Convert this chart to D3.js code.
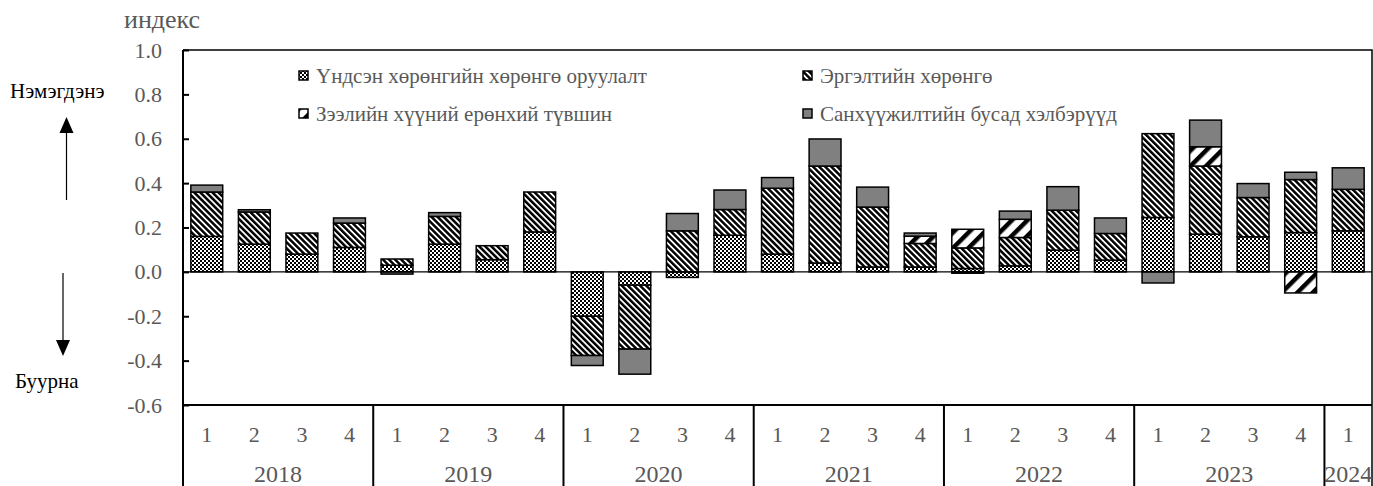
<!DOCTYPE html>
<html>
<head>
<meta charset="utf-8">
<script src="https://cdn.jsdelivr.net/npm/d3@7"></script>
<style>
  html, body { margin: 0; padding: 0; background: #fff; }
  svg { display: block; }
</style>
</head>
<body>
<div id="chart"></div>
<script>
const quarters = ['1','2','3','4','1','2','3','4','1','2','3','4','1','2','3','4','1','2','3','4','1','2','3','4','1'];
const years = ['2018','2019','2020','2021','2022','2023','2024'];
const yearQuarters = [4, 4, 4, 4, 4, 4, 1];

// contributions per quarter
const fixedInvest = [0.16, 0.125, 0.08, 0.11, 0.03, 0.125, 0.055, 0.18, -0.20, -0.06, -0.025, 0.165,
  0.08, 0.04, 0.022, 0.022, 0.015, 0.027, 0.098, 0.053, 0.245, 0.17, 0.158, 0.177, 0.185];
const workingCap = [0.20, 0.145, 0.095, 0.11, 0.028, 0.125, 0.063, 0.18, -0.177, -0.288, 0.185, 0.116,
  0.297, 0.437, 0.27, 0.106, 0.093, 0.128, 0.18, 0.12, 0.378, 0.307, 0.177, 0.239, 0.187];
const interestRate = [0, 0, 0, 0, 0, 0, 0, 0, 0, 0, 0, 0,
  0, 0, 0, 0.033, 0.084, 0.082, 0, 0, 0, 0.087, 0, -0.095, 0];
const otherFunding = [0.031, 0.01, 0, 0.023, -0.01, 0.017, 0, 0, -0.045, -0.113, 0.078, 0.088,
  0.048, 0.122, 0.09, 0.014, -0.006, 0.037, 0.106, 0.07, -0.05, 0.12, 0.063, 0.033, 0.097];

const seriesNames = ['Үндсэн хөрөнгийн хөрөнгө оруулалт', 'Эргэлтийн хөрөнгө', 'Зээлийн хүүний ерөнхий түвшин', 'Санхүүжилтийн бусад хэлбэрүүд'];
const yTicks = [-0.6, -0.4, -0.2, 0.0, 0.2, 0.4, 0.6, 0.8, 1.0];

const W = 1373, H = 486;
const padL = 183, padR = 1372, padT = 50, padB = 405;
const textGray = '#595959';
const FONT = '"Liberation Serif", "Times New Roman", serif';

const svg = d3.select('#chart').append('svg').attr('width', W).attr('height', H);
const defs = svg.append('defs');

function label(sel, size, color) {
  return sel.attr('font-family', FONT).style('font-family', FONT).style('font-size', size + 'px').attr('fill', color);
}

// patterns
const pDot = defs.append('pattern').attr('id', 'p-fixed').attr('patternUnits', 'userSpaceOnUse')
  .attr('width', 4).attr('height', 4);
pDot.append('rect').attr('width', 4).attr('height', 4).attr('fill', '#fff');
pDot.append('rect').attr('x', 0).attr('y', 0).attr('width', 2).attr('height', 2).attr('fill', '#000');
pDot.append('rect').attr('x', 2).attr('y', 2).attr('width', 2).attr('height', 2).attr('fill', '#000');

const pDiag = defs.append('pattern').attr('id', 'p-work').attr('patternUnits', 'userSpaceOnUse')
  .attr('width', 4.3).attr('height', 10).attr('patternTransform', 'rotate(-45)');
pDiag.append('rect').attr('width', 4.3).attr('height', 10).attr('fill', '#fff');
pDiag.append('rect').attr('width', 2.5).attr('height', 10).attr('fill', '#000');

const pWide = defs.append('pattern').attr('id', 'p-int').attr('patternUnits', 'userSpaceOnUse')
  .attr('width', 11).attr('height', 10).attr('patternTransform', 'rotate(45)');
pWide.append('rect').attr('width', 11).attr('height', 10).attr('fill', '#fff');
pWide.append('rect').attr('width', 4.5).attr('height', 10).attr('fill', '#000');

const fills = ['url(#p-fixed)', 'url(#p-work)', 'url(#p-int)', '#808080'];

const x = d3.scaleBand().domain(d3.range(quarters.length)).range([padL, padR])
  .paddingInner(0.33).paddingOuter(0.165);
const y = d3.scaleLinear().domain([-0.6, 1.0]).range([padB, padT]);

const rows = quarters.map((q, i) => ({ i, s0: fixedInvest[i], s1: workingCap[i], s2: interestRate[i], s3: otherFunding[i] }));
const stack = d3.stack().keys(['s0', 's1', 's2', 's3']).offset(d3.stackOffsetDiverging);
const layers = stack(rows);

// bars
const g = svg.append('g');
layers.forEach((layer, k) => {
  g.selectAll(null).data(layer.filter(d => Math.abs(d[1] - d[0]) > 1e-9)).join('rect')
    .attr('x', d => x(d.data.i))
    .attr('width', x.bandwidth())
    .attr('y', d => y(Math.max(d[0], d[1])))
    .attr('height', d => Math.abs(y(d[0]) - y(d[1])))
    .attr('fill', fills[k])
    .attr('stroke', '#000').attr('stroke-width', 1.5);
});

// zero line
svg.append('line').attr('x1', padL).attr('x2', padR).attr('y1', y(0)).attr('y2', y(0))
  .attr('stroke', '#000').attr('stroke-width', 1.2);

// frame
svg.append('path').attr('d', `M${padL},${padT}H${padR}V${H}`).attr('fill', 'none').attr('stroke', '#000').attr('stroke-width', 1.5);
svg.append('line').attr('x1', padL).attr('x2', padR).attr('y1', padB).attr('y2', padB).attr('stroke', '#000').attr('stroke-width', 2);

// y axis
const yAxis = d3.axisRight(y).tickValues(yTicks).tickSize(6).tickFormat(d => d3.format('.1f')(d).replace('−', '-'));
const ya = svg.append('g').attr('transform', `translate(${padL},0)`).call(yAxis);
ya.attr('font-family', FONT);
ya.select('.domain').remove();
ya.selectAll('.tick line').attr('stroke', '#000').attr('stroke-width', 2);
label(ya.selectAll('.tick text').attr('x', -21).attr('text-anchor', 'end'), 22, textGray);
svg.append('line').attr('x1', padL).attr('x2', padL).attr('y1', padT).attr('y2', H).attr('stroke', '#000').attr('stroke-width', 2);

// category axis: quarters and years
label(svg.append('g').selectAll('text').data(quarters).join('text')
  .attr('x', (d, i) => x(i) + x.bandwidth() / 2).attr('y', 442)
  .attr('text-anchor', 'middle').text(d => d), 22, textGray);

let start = 0;
years.forEach((yr, k) => {
  const n = yearQuarters[k];
  const x0 = x(start) - x.step() * x.paddingInner() / 2;
  const x1 = x0 + x.step() * n;
  label(svg.append('text').attr('x', (x0 + x1) / 2).attr('y', 482).attr('text-anchor', 'middle').text(yr), 24, textGray);
  if (k > 0) svg.append('line').attr('x1', x0).attr('x2', x0).attr('y1', padB).attr('y2', H)
    .attr('stroke', '#000').attr('stroke-width', 2);
  start += n;
});

// legend
const legendPos = [[299, 75.5], [803, 75.5], [299, 113.5], [803, 113.5]];
[0, 1, 2, 3].forEach((k, j) => {
  const [lx, ly] = legendPos[j];
  svg.append('rect').attr('x', lx).attr('y', ly - 4.5).attr('width', 9).attr('height', 9)
    .attr('fill', fills[k]).attr('stroke', '#000').attr('stroke-width', 1.5);
  label(svg.append('text').attr('x', lx + 17).attr('y', ly).attr('dy', '0.35em').text(seriesNames[k]), 21, textGray);
});

// titles and arrows
label(svg.append('text').attr('x', 124).attr('y', 28).text('индекс'), 26, textGray);
label(svg.append('text').attr('x', 10).attr('y', 98).text('Нэмэгдэнэ'), 21, '#000');
label(svg.append('text').attr('x', 15).attr('y', 388).text('Буурна'), 21, '#000');

const ax1 = 66.5, ax2 = 63;
svg.append('line').attr('x1', ax1).attr('x2', ax1).attr('y1', 130).attr('y2', 200).attr('stroke', '#000').attr('stroke-width', 1.2);
svg.append('path').attr('d', `M${ax1},117L${ax1 - 7},133H${ax1 + 7}Z`).attr('fill', '#000');
svg.append('line').attr('x1', ax2).attr('x2', ax2).attr('y1', 273).attr('y2', 343).attr('stroke', '#000').attr('stroke-width', 1.2);
svg.append('path').attr('d', `M${ax2},356L${ax2 - 7},340H${ax2 + 7}Z`).attr('fill', '#000');
</script>
</body>
</html>
